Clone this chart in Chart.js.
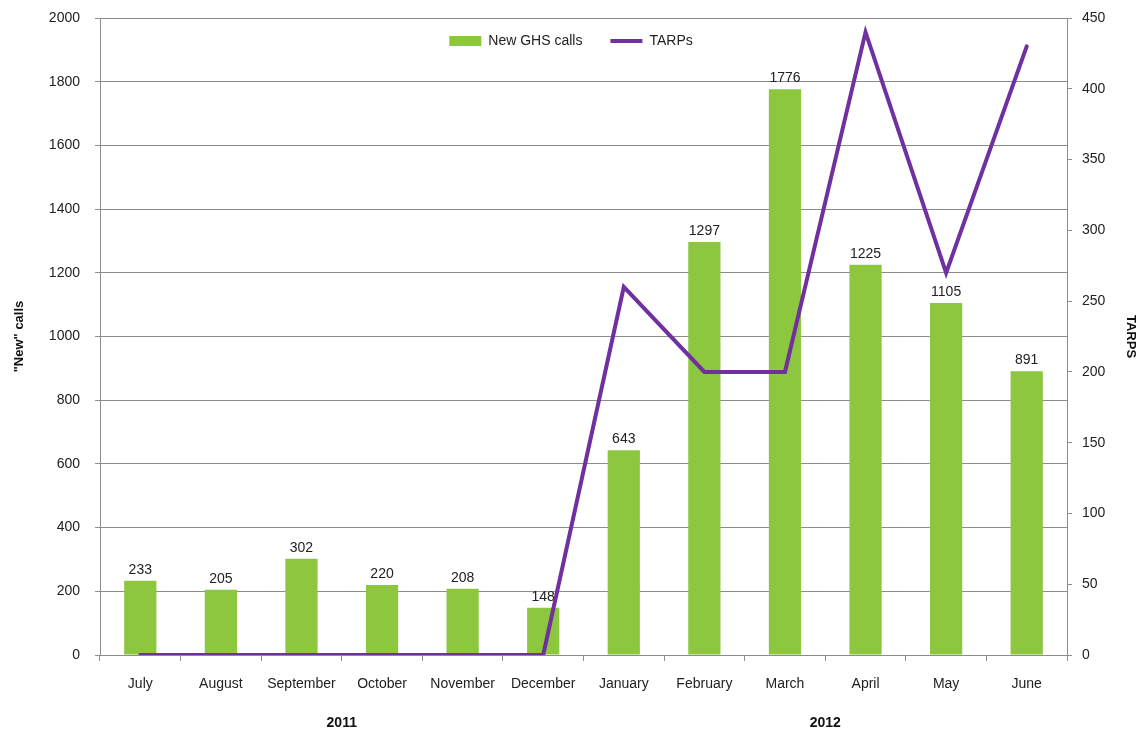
<!DOCTYPE html>
<html>
<head>
<meta charset="utf-8">
<script src="https://cdn.jsdelivr.net/npm/chart.js@4.4.1/dist/chart.umd.min.js"></script>
<style>
  html, body { margin: 0; padding: 0; background: #fff; }
  #wrap { width: 1142px; height: 732px; }
</style>
</head>
<body>
<div id="wrap"><canvas id="chart" width="1142" height="732"></canvas></div>
<script>
// Daten
const months = ['July', 'August', 'September', 'October', 'November', 'December',
                'January', 'February', 'March', 'April', 'May', 'June'];
const years  = ['2011', '2012'];
const newCalls = [233, 205, 302, 220, 208, 148, 643, 1297, 1776, 1225, 1105, 891];
const tarps    = [0, 0, 0, 0, 0, 0, 260, 200, 200, 440, 270, 430];

const callsAxis = { min: 0, max: 2000, step: 200 };
const tarpsAxis = { min: 0, max: 450, step: 50 };

const GREEN  = '#8DC63F';
const PURPLE = '#7030A0';
const GRID   = '#8c8c8c';
const FONT   = 'Liberation Sans, Arial, sans-serif';

// Werte über den Balken schreiben (nur für den Balken-Datensatz,
// damit die Linie danach darüber gezeichnet wird).
const barLabels = {
  id: 'barLabels',
  afterDatasetDraw(chart, args) {
    if (chart.data.datasets[args.index].type !== 'bar') return;
    const ctx = chart.ctx;
    ctx.save();
    ctx.font = '14px ' + FONT;
    ctx.fillStyle = '#222';
    ctx.textAlign = 'center';
    ctx.textBaseline = 'bottom';
    args.meta.data.forEach((bar, i) => {
      ctx.fillText(String(newCalls[i]), bar.x, bar.y - 4);
    });
    ctx.restore();
  }
};

// Legende soll im Plotbereich liegen und keinen Platz wegnehmen.
// Höhe beim Layout auf 0, beim Zeichnen die echte Höhe zurück (wegen Clipping).
const LEGEND_SHIFT = 12;
const legendInside = {
  id: 'legendInside',
  afterInit(chart) {
    const lg = chart.legend;
    if (!lg) return;
    const fit = lg.fit;
    const draw = lg.draw;
    lg.fit = function () {
      fit.call(this);
      this._fullH = this.height;
      this.height = 0;
    };
    lg.draw = function () {
      const h = this.height, b = this.bottom, t = this.top;
      this.top = t - LEGEND_SHIFT;
      this.height = this._fullH;
      this.bottom = this.top + this._fullH;
      draw.call(this);
      this.top = t;
      this.height = h;
      this.bottom = b;
    };
  }
};

const plainTick = v => String(v);

// Tick-Padding soll den Plotbereich oben nicht nach unten schieben.
const noTopPad = s => { s.paddingTop = 0; };

new Chart(document.getElementById('chart'), {
  data: {
    labels: months,
    datasets: [
      {
        type: 'bar',
        label: 'New GHS calls',
        data: newCalls,
        backgroundColor: GREEN,
        borderWidth: 0,
        yAxisID: 'y',
        order: 1,
        pointStyle: 'rect',
        barPercentage: 0.4,
        categoryPercentage: 1.0
      },
      {
        type: 'line',
        label: 'TARPs',
        data: tarps,
        borderColor: PURPLE,
        backgroundColor: PURPLE,
        borderWidth: 4,
        borderCapStyle: 'round',
        borderJoinStyle: 'miter',
        tension: 0,
        pointRadius: 0,
        pointStyle: 'line',
        yAxisID: 'y1',
        order: 0
      }
    ]
  },
  options: {
    responsive: false,
    animation: false,
    layout: { padding: { top: 18, left: 0, right: 0, bottom: 0 } },
    plugins: {
      legend: {
        position: 'top',
        labels: {
          usePointStyle: true,
          pointStyleWidth: 32,
          boxHeight: 10,
          padding: 28,
          color: '#222',
          font: { family: FONT, size: 14 },
          sort: (a, b) => a.datasetIndex - b.datasetIndex
        }
      },
      tooltip: { enabled: false }
    },
    scales: {
      x: {
        type: 'category',
        position: 'bottom',
        offset: true,
        grid: { display: true, drawOnChartArea: false, color: GRID, tickLength: 6 },
        border: { color: GRID },
        ticks: { color: '#222', font: { family: FONT, size: 14 }, padding: 15, maxRotation: 0, autoSkip: false },
        afterFit: s => { s.height = 45; }
      },
      x2: {
        type: 'category',
        position: 'bottom',
        labels: years,
        offset: true,
        grid: { display: false, drawTicks: false },
        border: { display: false },
        ticks: { color: '#111', font: { family: FONT, size: 14, weight: 'bold' }, padding: 15 },
        afterFit: s => { s.height = 32; }
      },
      y: {
        position: 'left',
        min: callsAxis.min,
        max: callsAxis.max,
        grid: { color: GRID, tickLength: 5 },
        border: { color: GRID },
        ticks: { stepSize: callsAxis.step, color: '#222', font: { family: FONT, size: 14 }, padding: 15, callback: plainTick },
        title: {
          display: true,
          text: '"New" calls',
          color: '#111',
          font: { family: FONT, size: 13, weight: 'bold' },
          padding: { top: 12, bottom: 0 }
        },
        afterFit: s => { s.width = 100; noTopPad(s); }
      },
      y1: {
        position: 'right',
        min: tarpsAxis.min,
        max: tarpsAxis.max,
        grid: { display: true, drawOnChartArea: false, color: GRID, tickLength: 5 },
        border: { color: GRID },
        ticks: { stepSize: tarpsAxis.step, color: '#222', font: { family: FONT, size: 14 }, padding: 10, callback: plainTick },
        title: {
          display: true,
          text: 'TARPS',
          color: '#111',
          font: { family: FONT, size: 13, weight: 'bold' },
          padding: { top: 4, bottom: 0 }
        },
        afterFit: s => { s.width = 75; noTopPad(s); }
      }
    }
  },
  plugins: [barLabels, legendInside]
});
</script>
</body>
</html>
